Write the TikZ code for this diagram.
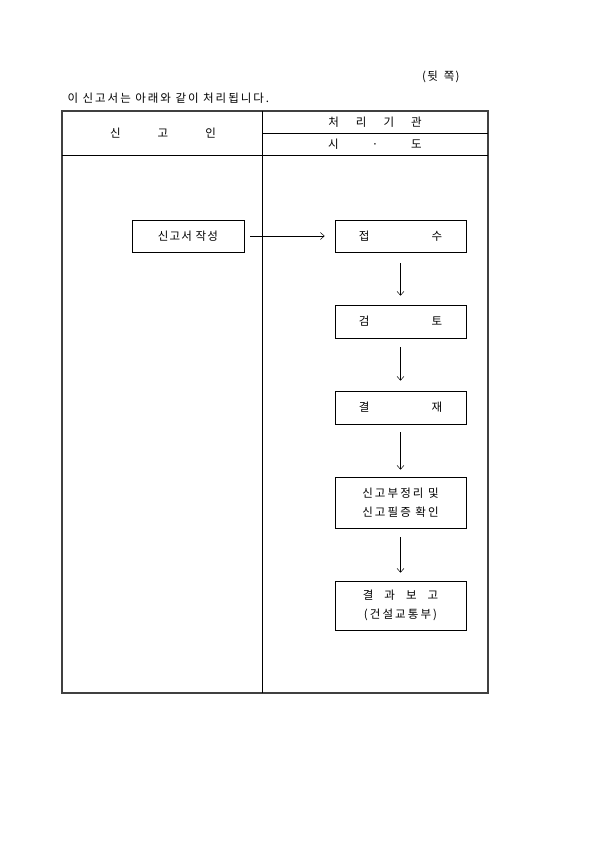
\documentclass[tikz,border=0pt]{standalone}
\usepackage{fontspec}
\setmainfont{Noto Sans CJK KR}
\usetikzlibrary{positioning, arrows.meta}

\begin{document}
\begin{tikzpicture}[
  x=1pt, y=-1pt,
  font=\fontsize{11.5}{13}\selectfont\addfontfeature{LetterSpace=10},
  stepbox/.style={draw, line width=0.6pt, minimum width=131pt, minimum height=33pt, inner sep=0pt, align=center},
  flow/.style={-{Straight Barb[length=4pt, width=7pt]}, line width=0.5pt},
  spaced/.style={font=\fontsize{11.5}{19}\selectfont\addfontfeature{LetterSpace=18}},
]
  \useasboundingbox (0,0) rectangle (595,842);

  % texts above the table
  \node[anchor=east] (side) at (463,77) {(뒷\hspace{6pt}쪽)};
  \node[anchor=west, font=\fontsize{11.5}{13}\selectfont\addfontfeature{LetterSpace=17}] (intro) at (64,98) {이 신고서는 아래와 같이 처리됩니다.};

  % table
  \draw[line width=1.4pt, black!75] (62,111) rectangle (488,693);
  \draw[line width=0.6pt] (262,111) -- (262,693);
  \draw[line width=0.6pt] (62,155) -- (488,155);
  \draw[line width=0.6pt] (262,133) -- (488,133);
  \node (applicant) at (163,133) {신\hspace{37pt}고\hspace{37pt}인};
  \node (office) at (375,122) {처\hspace{17pt}리\hspace{17pt}기\hspace{17pt}관};
  \node (city) at (375,144) {시\hspace{33pt}·\hspace{33pt}도};

  % flow
  \node[stepbox, minimum width=112pt, minimum height=32pt] (write) at (188,236) {신고서 작성};
  \node[stepbox, minimum height=32pt] (receive) at (400.5,236) {접\hspace{62pt}수};
  \node[stepbox] (review) at (400.5,321.5) {검\hspace{62pt}토};
  \node[stepbox] (approve) at (400.5,407.5) {결\hspace{62pt}재};
  \node[stepbox, minimum height=51pt, spaced] (register) at (400.5,502.5) {신고부정리 및\\신고필증 확인};
  \node[stepbox, minimum height=49pt, spaced] (report) at (400.5,605.5) {결\hspace{11pt}과\hspace{11pt}보\hspace{11pt}고\\(건설교통부)};

  \draw[flow, shorten <=6pt, shorten >=10pt] (write) -- (receive);
  \draw[flow, shorten <=11pt, shorten >=9pt] (receive) -- (review);
  \draw[flow, shorten <=9pt, shorten >=10pt] (review) -- (approve);
  \draw[flow, shorten <=8pt, shorten >=7pt] (approve) -- (register);
  \draw[flow, shorten <=9pt, shorten >=8pt] (register) -- (report);
\end{tikzpicture}
\end{document}
